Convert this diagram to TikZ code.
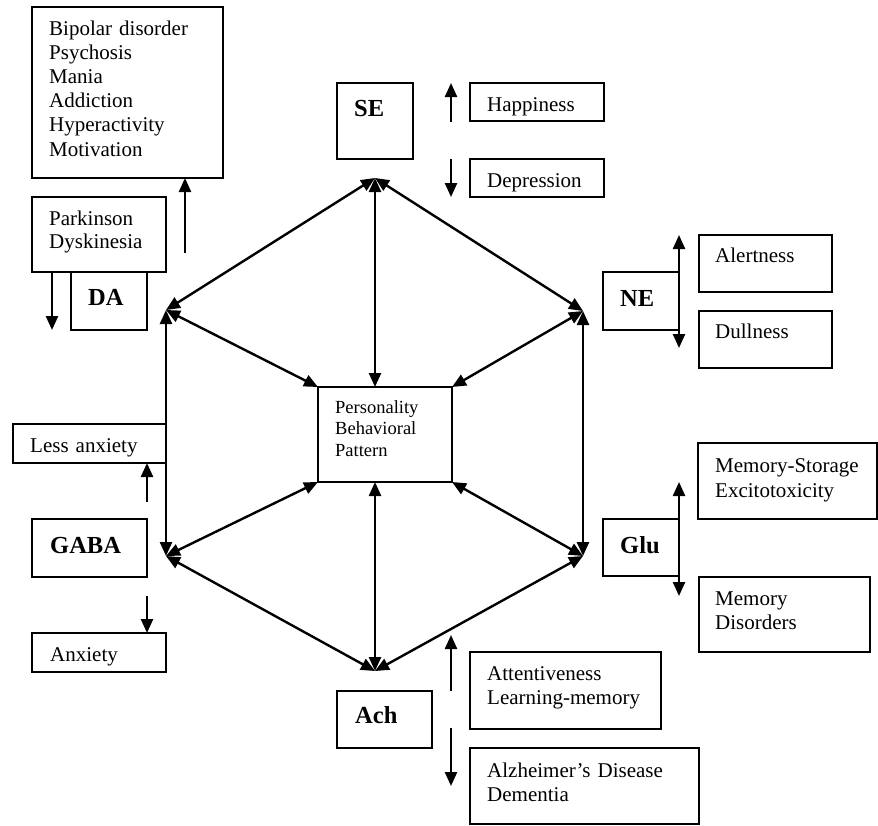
\documentclass[tikz,border=0pt]{standalone}
\usepackage{fontspec}
\setmainfont{Liberation Serif}
\usetikzlibrary{arrows.meta,calc}
\newcommand\mybox[5]{\node[box, minimum width={(#4-#2)*1pt}, minimum height={(#5-#3)*1pt}] (#1) at ({(#2+#4)/2},{(#3+#5)/2}) {};}
\begin{document}
\begin{tikzpicture}[x=1pt,y=-1pt,
  box/.style={draw, line width=1.8pt, inner sep=0pt, outer sep=0pt},
  txt/.style={anchor=base west, inner sep=0pt, text width=220pt, align=left, font=\fontsize{21}{24.2}\selectfont},
  lbl/.style={anchor=base west, inner sep=0pt, font=\fontsize{24.5}{28}\selectfont\bfseries},
  ctxt/.style={anchor=base west, inner sep=0pt, text width=120pt, align=left, font=\fontsize{18.5}{21.6}\selectfont},
  tip/.tip={Triangle[length=14pt,width=12pt]},
  arr/.style={line width=2.4pt, -tip},
  dbl/.style={line width=2.4pt, tip-tip}]
\useasboundingbox (0,0) rectangle (878,825);

% boxes
\mybox{bip}{32}{7}{223}{178}
\mybox{park}{32}{197}{166}{272}
\mybox{da}{71}{272}{147}{330}
\mybox{se}{337}{83}{413}{159}
\mybox{hap}{470}{83}{604}{121}
\mybox{dep}{470}{159}{604}{197}
\mybox{ne}{603}{272}{679}{330}
\mybox{alert}{699}{235}{832}{292}
\mybox{dull}{699}{311}{832}{368}
\mybox{c}{318}{387}{452}{482}
\mybox{less}{13}{424}{166}{463}
\mybox{gaba}{32}{519}{147}{577}
\mybox{anx}{32}{633}{166}{672}
\mybox{glu}{603}{519}{679}{576}
\mybox{mst}{698}{443}{877}{519}
\mybox{mdis}{699}{577}{870}{652}
\mybox{att}{470}{652}{661}{729}
\mybox{alz}{470}{748}{699}{824}
\mybox{ach}{337}{691}{432}{748}

% texts
\node[txt] (bipT) at (49,35) {Bipolar disorder\\Psychosis\\Mania\\Addiction\\Hyperactivity\\Motivation};
\node[txt, font=\fontsize{21}{23.5}\selectfont] (parkT) at (49,225) {Parkinson\\Dyskinesia};
\node[lbl] (daT) at (88,305) {DA};
\node[lbl] (seT) at (354,116) {SE};
\node[txt] (hapT) at (487,111) {Happiness};
\node[txt] (depT) at (487,187) {Depression};
\node[lbl] (neT) at (620,306) {NE};
\node[txt] (alertT) at (715,262) {Alertness};
\node[txt] (dullT) at (715,338) {Dullness};
\node[ctxt] (cT) at (335,413) {Personality\\Behavioral\\Pattern};
\node[txt] (lessT) at (30,452) {Less anxiety};
\node[lbl] (gabaT) at (50,553) {GABA};
\node[txt] (anxT) at (50,661) {Anxiety};
\node[txt, font=\fontsize{21}{25}\selectfont] (mstT) at (715,472) {Memory-Storage\\Excitotoxicity};
\node[lbl] (gluT) at (620,553) {Glu};
\node[txt] (mdisT) at (715,605) {Memory\\Disorders};
\node[txt] (attT) at (487,680) {Attentiveness\\Learning-memory};
\node[txt] (alzT) at (487,777) {Alzheimer’s Disease\\Dementia};
\node[lbl] (achT) at (355,723) {Ach};

% hexagon vertices
\coordinate (vT) at (375,178);
\coordinate (vUL) at (166,310);
\coordinate (vUR) at (583,311);
\coordinate (vLL) at (166,556);
\coordinate (vLR) at (583,556);
\coordinate (vB) at (375,671);

\draw[dbl] (vT) -- (vUL);
\draw[dbl] (vT) -- (vUR);
\draw[dbl] (vUL) -- (vLL);
\draw[dbl] (vUR) -- (vLR);
\draw[dbl] (vLL) -- (vB);
\draw[dbl] (vLR) -- (vB);
\draw[dbl] (c.north west) -- (vUL);
\draw[dbl] (c.north east) -- (vUR);
\draw[dbl] (c.south west) -- (vLL);
\draw[dbl] (c.south east) -- (vLR);
\draw[dbl] (vT |- c.north) -- (vT);
\draw[dbl] (vB |- c.south) -- (vB);

% side arrows
\coordinate (daUp) at (185,253);
\draw[arr] (daUp) -- (daUp |- bip.south);
\coordinate (daDn) at (52,330);
\draw[arr] (daDn |- park.south) -- (daDn);

\coordinate (seUp0) at (451,122);
\coordinate (seUp1) at (451,83);
\draw[arr] (seUp0) -- (seUp1);
\coordinate (seDn0) at (451,159);
\coordinate (seDn1) at (451,197);
\draw[arr] (seDn0) -- (seDn1);

\coordinate (neUp) at (679,235);
\coordinate (neDn) at (679,348);
\draw[dbl] (neUp) -- (neDn);
\coordinate (gluUp) at (679,482);
\coordinate (gluDn) at (679,596);
\draw[dbl] (gluUp) -- (gluDn);

\coordinate (gUp) at (147,502);
\draw[arr] (gUp) -- (gUp |- less.south);
\coordinate (gDn) at (147,596);
\draw[arr] (gDn) -- (gDn |- anx.north);

\coordinate (aUp0) at (451,691);
\coordinate (aUp1) at (451,635);
\draw[arr] (aUp0) -- (aUp1);
\coordinate (aDn0) at (451,728);
\coordinate (aDn1) at (451,786);
\draw[arr] (aDn0) -- (aDn1);
\end{tikzpicture}
\end{document}
